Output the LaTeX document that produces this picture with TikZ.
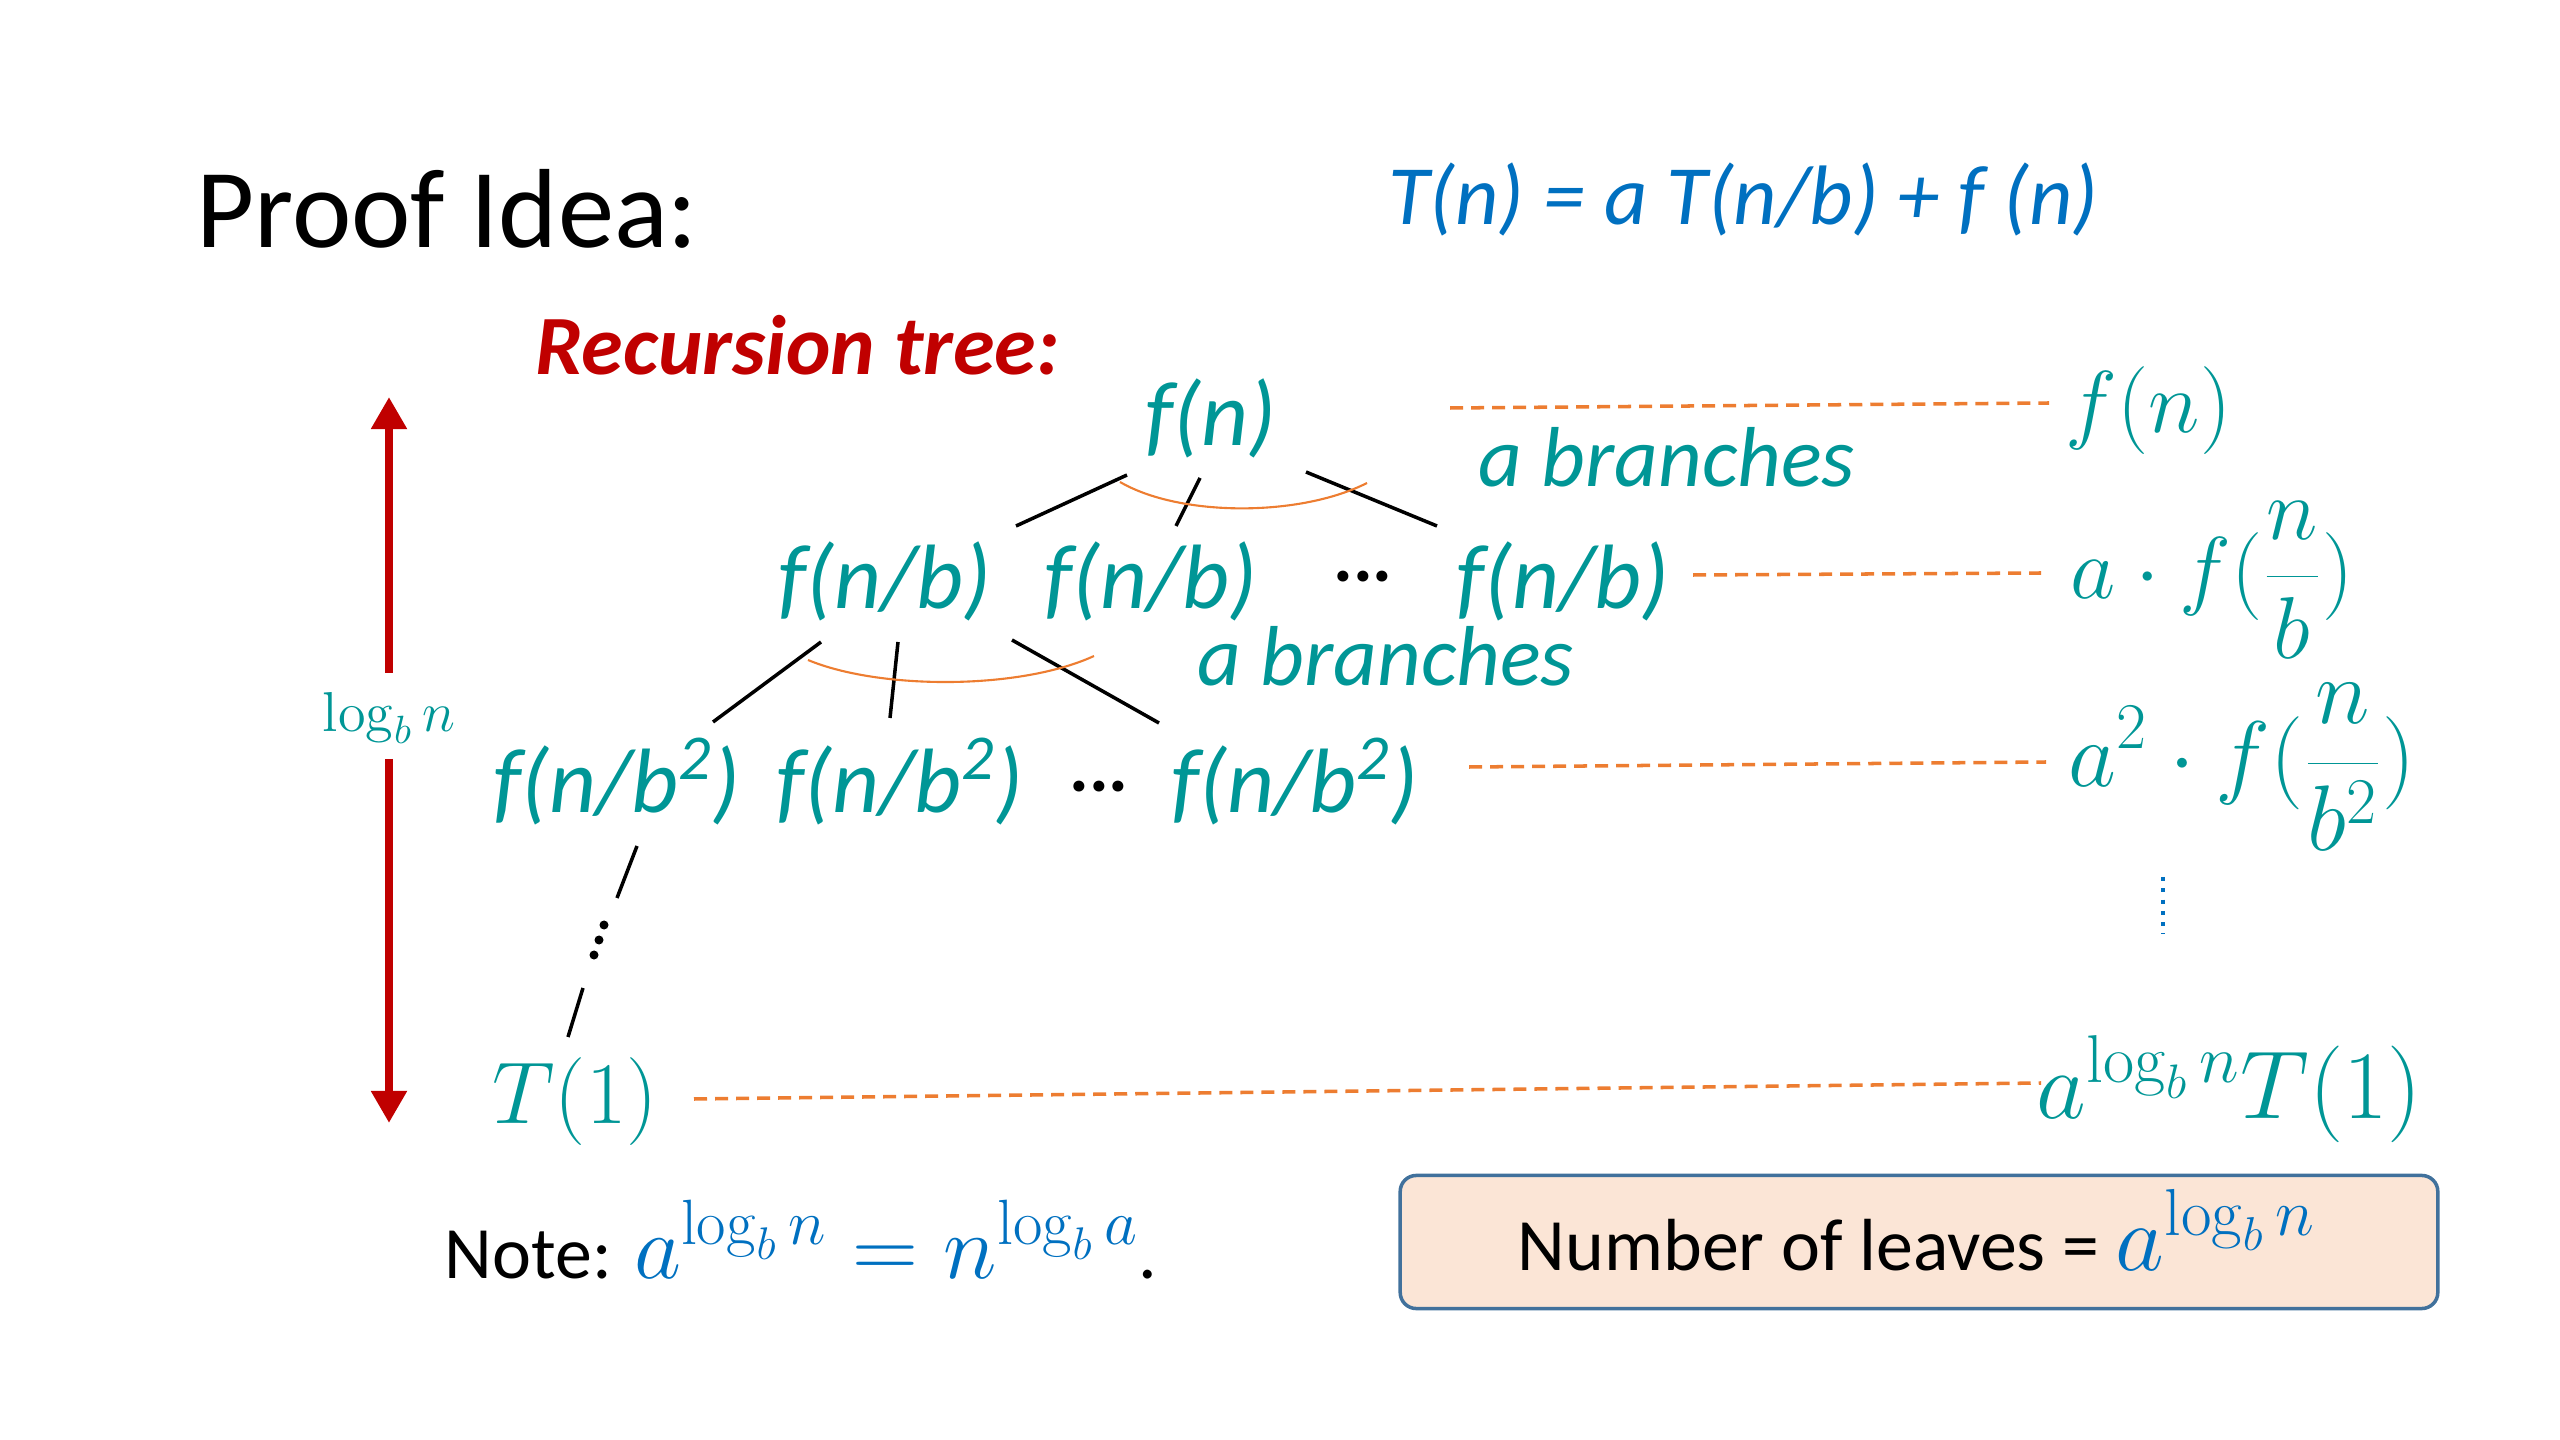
\RequirePackage{fix-cm}
\documentclass[tikz,border=0pt]{standalone}
\usepackage[no-math]{fontspec}
\setmainfont{Carlito}
\usetikzlibrary{arrows.meta}
\definecolor{tealc}{RGB}{0,150,150}
\definecolor{eqblue}{RGB}{0,112,192}
\definecolor{darkredc}{RGB}{192,0,0}
\definecolor{orng}{RGB}{237,125,49}
\definecolor{boxfill}{RGB}{251,229,214}
\definecolor{boxline}{RGB}{65,113,156}
\newcommand{\setfs}[1]{\fontsize{#1}{#1}\selectfont}
\tikzset{
  lbl/.style={text=tealc, font=\setfs{26}\itshape, inner sep=0pt},
  brl/.style={text=tealc, font=\setfs{24.2}\itshape, inner sep=0pt, anchor=base west},
  rmath/.style={text=tealc, font=\setfs{25}, inner sep=0pt},
  dotsn/.style={font=\setfs{21}\bfseries, inner sep=0pt},
  treeline/.style={black, line width=1pt},
  arcline/.style={orng, line width=0.6pt},
  orangedash/.style={orng, line width=1pt, dash pattern=on 0.13cm off 0.08cm},
  redarrow/.style={darkredc, line width=0.08cm, -{Triangle[width=0.34cm,length=0.32cm]}},
}
\begin{document}
\begin{tikzpicture}[x=0.01cm,y=-0.01cm]
\useasboundingbox (0,0) rectangle (2560,1440);

% titles
\node[anchor=base west, inner sep=0pt, font=\setfs{32}] (title) at (196,248) {Proof Idea:};
\node[anchor=base west, inner sep=0pt, text=eqblue, font=\setfs{24}\itshape] (eq) at (1388,225) {T(n) = a T(n/b) + f (n)};
\node[anchor=base west, inner sep=0pt, text=darkredc, font=\setfs{24}\bfseries\itshape] (rt) at (535,375) {Recursion tree:};

% tree nodes
\node[lbl, anchor=base] (r) at (1211,446) {f(n)};
\node[lbl, anchor=base] (b1) at (885,609) {f(n/b)};
\node[lbl, anchor=base] (b2) at (1151,609) {f(n/b)};
\node[dotsn] (bd) at (1363,577) {...};
\node[lbl, anchor=base] (b3) at (1563,609) {f(n/b)};
\node[lbl, anchor=base] (c1) at (617,813) {f(n/b\textsuperscript{2})};
\node[lbl, anchor=base] (c2) at (900,813) {f(n/b\textsuperscript{2})};
\node[dotsn] (cd) at (1099,787) {...};
\node[lbl, anchor=base] (c3) at (1295,813) {f(n/b\textsuperscript{2})};
\node[rmath, anchor=base] (t1) at (575,1123) {$T(1)$};

\node[brl] (br1) at (1478,487) {a branches};
\node[brl] (br2) at (1197,686) {a branches};

% tree edges
\draw[treeline] (1127,475) -- (1016,526);
\draw[treeline] (1200,478) -- (1176,526);
\draw[treeline] (1306,472) -- (1437,526);
\draw[arcline] (1120,482) .. controls (1180,517) and (1300,517) .. (1367,483);

\draw[treeline] (821,642) -- (713,722);
\draw[treeline] (898,642) -- (890,718);
\draw[treeline] (1012,640) -- (1159,723);
\draw[arcline] (808,660) .. controls (880,690) and (1020,690) .. (1094,656);

\draw[treeline] (637,846) -- (617,898);
\fill (604,925) circle (0.045cm);
\fill (599,940) circle (0.045cm);
\fill (594,955) circle (0.045cm);
\draw[treeline] (583,988) -- (568,1037);

% right column
\node[rmath, anchor=base west] (rr1) at (2065,433) {$f(n)$};
\node[rmath, anchor=west] (rr2) at (2070,580) {$\displaystyle a\cdot f(\frac{n}{b})$};
\node[rmath, anchor=west, font=\setfs{26.5}] (rr3) at (2068,767) {$\displaystyle a^2\cdot f(\frac{n}{b^2})$};
\node[rmath, anchor=base west, font=\setfs{27.5}] (rr4) at (2036,1118) {$a^{\log_b n}T(1)$};
\coordinate (vt) at (2163,877);
\coordinate (vb) at (2163,934);
\draw[eqblue, dotted, line width=1.2pt] (vt) -- (vb);

% dashed guides
\coordinate (d1a) at (1450,408); \coordinate (d1b) at (2049,403);
\coordinate (d2a) at (1693,575); \coordinate (d2b) at (2041,573);
\coordinate (d3a) at (1469,767); \coordinate (d3b) at (2046,762);
\coordinate (d4a) at (694,1099); \coordinate (d4b) at (2041,1083);
\draw[orangedash] (d1a) -- (d1b);
\draw[orangedash] (d2a) -- (d2b);
\draw[orangedash] (d3a) -- (d3b);
\draw[orangedash] (d4a) -- (d4b);

% height arrow
\node[text=tealc, inner sep=0pt, font=\setfs{16}] (lg) at (389,718) {$\log_b n$};
\coordinate (atop) at (389,397);
\coordinate (abot) at (389,1123);
\draw[redarrow] (389,673) -- (atop);
\draw[redarrow] (389,759) -- (abot);

% bottom
\node[anchor=base west, inner sep=0pt, font=\setfs{21}] (note) at (444,1278) {Note: \textcolor{eqblue}{\setfs{26}$a^{\log_b n}=n^{\log_b a}$}.};
\node[draw=boxline, fill=boxfill, rounded corners=0.16cm, line width=1pt, minimum width=10.37cm, minimum height=1.33cm] (box) at (1919,1242) {};
\node[anchor=base, inner sep=0pt, font=\setfs{21}] (boxtxt) at (1917,1270) {Number of leaves = \textcolor{eqblue}{\setfs{27}$a^{\log_b n}$}};
\end{tikzpicture}
\end{document}
